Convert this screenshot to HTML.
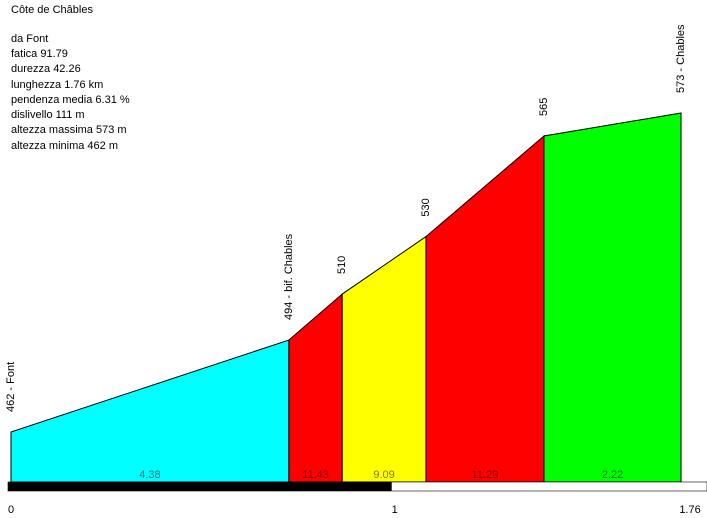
<!DOCTYPE html>
<html><head><meta charset="utf-8"><style>
html,body{margin:0;padding:0;background:#fff;}
svg{display:block;font-family:"Liberation Sans",Arial,sans-serif;}
</style></head><body>
<svg id="c" width="707" height="518" viewBox="0 0 707 518">
<g font-size="11" fill="#000">
<text x="11" y="13">Côte de Châbles</text>
<text x="11" y="42">da Font</text>
<text x="11" y="57">fatica 91.79</text>
<text x="11" y="72">durezza 42.26</text>
<text x="11" y="88">lunghezza 1.76 km</text>
<text x="11" y="103">pendenza media 6.31 %</text>
<text x="11" y="118">dislivello 111 m</text>
<text x="11" y="133">altezza massima 573 m</text>
<text x="11" y="149">altezza minima 462 m</text>
</g>
</svg>
<script>
const distances=[0,0.73,0.87,1.09,1.40,1.76];
const elevations=[462,494,510,530,565,573];
const pointLabels=["462 - Font","494 - bif. Chables","510","530","565","573 - Chables"];
const gradients=["4.38","11.43","9.09","11.29","2.22"];
const fills=["#00ffff","#ff0000","#ffff00","#ff0000","#00ff00"];
const textColors=["#007b7b","#7b0000","#7b7b00","#7b0000","#007b00"];
const xTicks=[0,1,1.76];
const tickLabels=["0","1","1.76"];

const ns="http://www.w3.org/2000/svg";
const svg=document.getElementById('c');
const X0=11,PX=380.7,BASE=482;
const x=d=>X0+d*PX;
const y=e=>432-(e-462)*2.874;
function mk(t,a){const el=document.createElementNS(ns,t);for(const k in a)el.setAttribute(k,a[k]);svg.appendChild(el);return el;}
for(let i=0;i<gradients.length;i++){
  const x1=x(distances[i]),x2=x(distances[i+1]);
  const p=mk('polygon',{points:`${x1},${BASE} ${x1},${y(elevations[i])} ${x2},${y(elevations[i+1])} ${x2},${BASE}`,fill:fills[i],stroke:'#000','stroke-width':1});
  
  
  const t=mk('text',{x:(x1+x2)/2,y:478,'text-anchor':'middle','font-size':11,fill:textColors[i]});
  t.textContent=gradients[i];
  
  
}
for(let i=0;i<elevations.length;i++){
  const px=x(distances[i])+3,py=y(elevations[i])-20;
  const t=mk('text',{x:px,y:py,'font-size':11,transform:`rotate(-90 ${px} ${py})`});
  t.textContent=pointLabels[i];
  
  
}
const bw=mk('rect',{x:8,y:482,width:699,height:9,fill:'#fff',stroke:'#000','stroke-width':0.6});


const bb=mk('rect',{x:8,y:482,width:x(1)-8,height:9,fill:'#000'});


for(let i=0;i<xTicks.length;i++){
  const t=mk('text',{x:x(xTicks[i])+(i==0?0:(i==2?9:3)),y:513,'text-anchor':'middle','font-size':11});
  t.textContent=tickLabels[i];
  
  
}
</script>
</body></html>
